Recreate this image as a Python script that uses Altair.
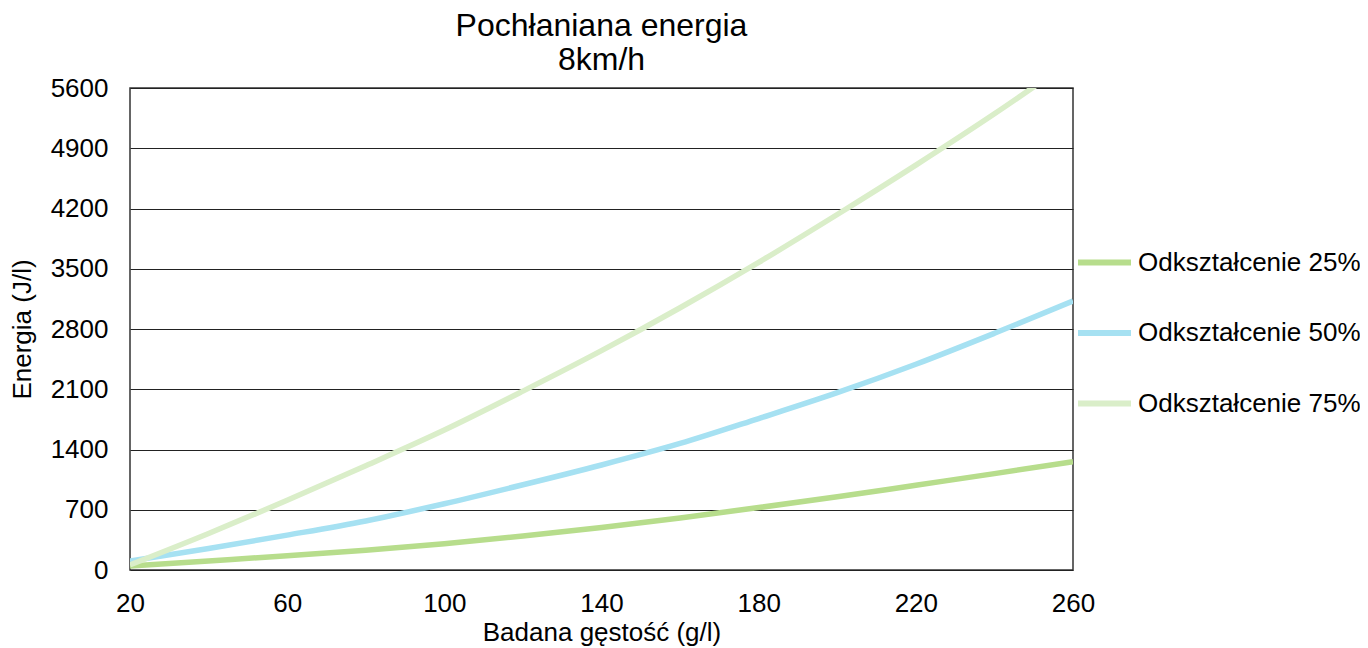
import altair as alt
import pandas as pd

density = [20, 40, 60, 80, 100, 120, 140, 160, 180, 200, 220, 240, 260]
e25 = [46, 105, 165, 230, 305, 395, 495, 605, 725, 850, 985, 1120, 1258]
e50 = [105, 250, 405, 570, 770, 990, 1220, 1470, 1760, 2060, 2390, 2750, 3125]
e75 = [60, 425, 810, 1212, 1626, 2078, 2548, 3047, 3574, 4130, 4704, 5300, 5930]
series = ["Odkształcenie 25%", "Odkształcenie 50%", "Odkształcenie 75%"]
colors = ["#b7dd8c", "#a6e1f2", "#daeec9"]
x_ticks = [20, 60, 100, 140, 180, 220, 260]
y_ticks = [0, 700, 1400, 2100, 2800, 3500, 4200, 4900, 5600]

rows = []
for name, vals in zip(series, [e25, e50, e75]):
    for d, v in zip(density, vals):
        rows.append({"d": d, "e": v, "s": name})
df = pd.DataFrame(rows)

FONT = "Liberation Sans"

chart = alt.Chart(df).mark_line(strokeWidth=5.5, clip=True, interpolate="monotone").encode(
    x=alt.X("d:Q", scale=alt.Scale(domain=[20, 260], nice=False, zero=False),
            axis=alt.Axis(values=x_ticks, title="Badana gęstość (g/l)", grid=False,
                          ticks=False, domain=False, labelPadding=20, format="d",
                          labelFlush=False,
                          labelFontSize=26, titleFontSize=26, titleFontWeight="normal",
                          labelColor="black", titleColor="black", titlePadding=3,
                          labelFont=FONT, titleFont=FONT)),
    y=alt.Y("e:Q", scale=alt.Scale(domain=[0, 5600], nice=False),
            axis=alt.Axis(values=y_ticks, title="Energia (J/l)", grid=True, format="d",
                          gridColor="#222222", gridWidth=1, gridOpacity=1,
                          ticks=False, domain=False, labelPadding=22, labelFlush=False,
                          labelFontSize=26, titleFontSize=26, titleFontWeight="normal",
                          labelColor="black", titleColor="black", titlePadding=15,
                          labelFont=FONT, titleFont=FONT)),
    color=alt.Color("s:N", scale=alt.Scale(domain=series, range=colors),
                    legend=alt.Legend(title=None, orient="none", legendX=945, legendY=145,
                                      symbolType="stroke", symbolSize=2809,
                                      symbolStrokeWidth=6, labelFontSize=26,
                                      labelFont=FONT, labelColor="black", labelLimit=400,
                                      rowPadding=27.5, labelOffset=4, padding=0)),
).properties(
    width=943, height=482,
    title=alt.TitleParams(["Pochłaniana energia", "8km/h"], fontSize=32, font=FONT,
                          fontWeight="normal", color="black", lineHeight=34,
                          anchor="middle", offset=-2, frame="group"),
    padding={"left": 122, "top": 80, "right": 287, "bottom": 80},
    autosize=alt.AutoSizeParams(type="none"),
).configure_view(stroke="#333333", strokeWidth=1.5)

chart.save("out.html", embed_options={"renderer": "svg", "actions": False})
